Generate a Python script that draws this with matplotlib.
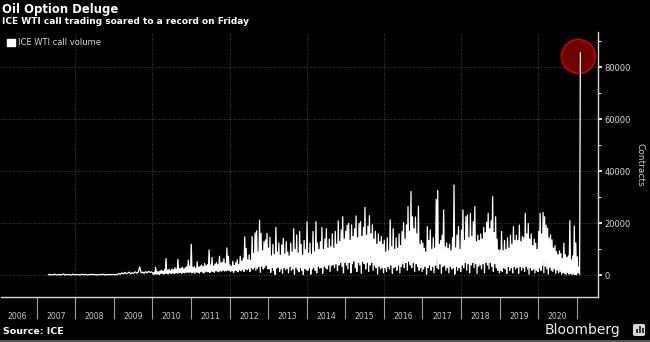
import numpy as np
import matplotlib
matplotlib.use('Agg')
import matplotlib.pyplot as plt
from matplotlib.patches import Patch, FancyBboxPatch, Rectangle
from matplotlib.lines import Line2D
import matplotlib.transforms as mtransforms

# ICE WTI call volume, thousands of contracts
vol_2007 = [0.3, 0.4, 0.2, 0.3, 0.5, 0.3, 0.2, 0.4, 0.3, 0.3, 0.6, 0.2, 0.3, 0.4, 0.3, 0.2, 0.5, 0.3]
vol_2008 = [0.3, 0.4, 0.3, 0.2, 0.5, 0.3, 0.4, 0.3, 0.2, 0.4, 0.3, 0.5, 0.3, 0.4, 0.2, 0.3,
            0.4, 0.3, 0.5, 0.3, 0.2, 0.4, 0.3, 0.4, 0.3, 0.4]
vol_2009 = [0.3, 0.4, 0.3, 0.8, 0.5, 1.0, 0.6, 1.2, 0.7, 0.9, 1.3, 0.6, 1.1, 0.8, 1.4, 0.9,
            1.2, 3.3, 1.0, 1.3, 0.8, 1.5, 1.0, 1.6, 1.2, 1.4]

# from 2010 on: fortnightly highs and lows
peaks_2010 = [1.0, 1.2, 3.1, 1.5, 1.4, 1.8, 2.0, 1.6, 2.2, 6.5, 2.0, 2.4, 1.8, 2.5, 2.2, 3.0,
              2.4, 6.2, 2.6, 2.8, 3.2, 2.5, 3.0, 3.4, 5.9, 3.5]
troughs_2010 = [0.4, 0.5, 0.6, 0.5, 0.4, 0.7, 0.8, 0.5, 0.9, 0.8, 0.6, 1.0, 0.7, 0.9, 0.8, 1.0,
                0.9, 1.0, 1.1, 0.8, 1.2, 1.0, 1.1, 1.3, 1.2, 1.4]
peaks_2011 = [12.0, 3.0, 3.5, 2.8, 5.3, 3.2, 3.6, 4.0, 3.4, 4.6, 3.8, 4.2, 9.8, 4.0, 6.9, 3.6,
              4.4, 5.0, 4.2, 7.4, 4.8, 5.2, 6.5, 4.6, 10.6, 7.4]
troughs_2011 = [1.0, 1.2, 0.8, 1.4, 1.2, 0.9, 1.5, 1.3, 1.0, 1.6, 1.4, 1.5, 1.1, 1.7, 1.5, 1.2,
                1.8, 1.6, 1.4, 1.9, 1.6, 2.0, 1.7, 1.8, 2.1, 1.9]
peaks_2012 = [4.0, 3.5, 5.5, 3.8, 5.0, 6.0, 4.2, 7.4, 5.5, 6.5, 14.9, 10.4, 6.0, 8.0, 5.8, 15.0,
              8.5, 16.4, 17.2, 9.0, 21.3, 16.2, 9.5, 13.0, 13.7, 16.2]
troughs_2012 = [1.5, 1.8, 1.2, 2.0, 1.9, 1.4, 2.2, 1.8, 2.4, 1.6, 2.5, 2.2, 2.8, 1.5, 3.0, 2.4,
                3.2, 2.0, 2.8, 3.4, 1.2, 3.6, 2.5, 3.0, 3.8, 2.6]
peaks_2013 = [10.5, 14.7, 7.5, 12.0, 8.0, 18.5, 9.0, 12.5, 7.8, 11.8, 14.3, 8.2, 13.0, 9.0, 7.5, 12.5,
              9.0, 18.0, 10.0, 15.6, 8.5, 16.9, 12.0, 7.8, 13.5, 10.0]
troughs_2013 = [2.5, 1.2, 3.0, 2.0, 0.4, 2.8, 3.2, 1.5, 2.5, 0.8, 3.0, 2.2, 2.8, 1.0, 3.5, 2.0,
                2.6, 0.5, 3.2, 2.4, 1.4, 3.0, 2.0, 0.3, 2.8, 2.2]
peaks_2014 = [20.7, 8.5, 12.5, 8.0, 16.9, 9.0, 20.7, 12.5, 10.0, 13.0, 18.5, 10.0, 14.0, 18.0, 10.5, 14.0,
              11.0, 16.0, 10.5, 17.0, 12.0, 21.0, 13.0, 17.5, 22.6, 14.0]
troughs_2014 = [2.0, 3.0, 0.5, 2.5, 3.2, 2.0, 1.0, 3.5, 2.8, 3.0, 0.8, 3.6, 3.0, 2.5, 4.0, 1.5,
                3.8, 4.2, 3.0, 4.5, 1.8, 4.0, 5.0, 3.5, 1.0, 5.0]
peaks_2015 = [17.0, 19.4, 20.0, 13.5, 19.5, 15.0, 18.0, 22.9, 14.5, 20.0, 20.7, 15.0, 18.5, 26.2, 15.5, 19.0,
              23.0, 16.0, 19.5, 14.0, 17.0, 12.0, 16.0, 13.0, 15.0, 12.0]
troughs_2015 = [4.0, 2.5, 5.0, 1.0, 4.5, 5.5, 3.0, 1.5, 5.0, 4.0, 0.8, 5.5, 4.5, 2.5, 5.0, 1.5,
                4.0, 5.0, 2.0, 4.0, 3.0, 0.5, 3.5, 2.5, 3.0, 1.0]
peaks_2016 = [13.5, 9.0, 14.5, 9.5, 21.4, 11.0, 18.0, 10.0, 14.5, 10.5, 16.0, 11.5, 17.0, 20.3, 14.0, 19.5,
              26.5, 17.0, 32.3, 22.6, 18.0, 22.5, 16.0, 26.7, 12.0, 13.5]
troughs_2016 = [3.0, 1.5, 3.5, 2.5, 4.0, 0.8, 3.0, 3.5, 2.0, 4.0, 1.0, 3.5, 4.5, 3.0, 5.0, 2.0,
                5.5, 4.0, 3.0, 5.0, 1.5, 4.5, 3.5, 2.0, 3.0, 1.5]
peaks_2017 = [12.5, 10.5, 9.0, 18.8, 13.5, 17.5, 10.0, 14.5, 10.5, 29.3, 32.7, 12.0, 13.5, 15.5, 25.2, 11.0,
              12.5, 10.5, 12.0, 9.5, 14.5, 34.8, 10.5, 15.6, 18.8, 10.0]
troughs_2017 = [2.5, 3.5, 0.5, 3.0, 4.0, 2.0, 3.5, 1.0, 4.0, 3.0, 2.5, 4.5, 0.8, 3.5, 4.0, 2.0,
                3.0, 1.0, 3.5, 2.5, 3.0, 0.5, 3.5, 2.0, 3.0, 1.5]
peaks_2018 = [17.5, 25.2, 13.5, 22.6, 23.3, 14.5, 23.9, 15.0, 20.7, 26.5, 13.0, 15.5, 13.5, 16.0, 14.0, 18.5,
              16.5, 20.5, 23.9, 18.0, 21.0, 30.3, 16.5, 22.6, 14.0, 9.8]
troughs_2018 = [4.0, 3.0, 5.0, 2.0, 4.5, 1.0, 4.0, 5.0, 3.0, 4.5, 0.8, 3.5, 4.0, 2.5, 4.5, 1.0,
                5.0, 4.0, 2.5, 5.0, 3.5, 1.5, 4.5, 3.0, 2.0, 1.0]
peaks_2019 = [9.8, 16.9, 9.5, 13.5, 10.0, 14.5, 10.5, 15.5, 12.0, 18.8, 13.5, 15.5, 13.5, 19.4, 13.0, 15.0,
              14.5, 23.9, 16.0, 20.0, 14.0, 16.0, 11.5, 14.0, 12.4, 10.0]
troughs_2019 = [2.0, 1.5, 3.0, 2.5, 0.8, 3.5, 2.0, 3.0, 1.0, 3.5, 2.5, 3.0, 0.8, 3.5, 2.0, 3.0,
                1.5, 3.5, 2.5, 0.5, 3.0, 2.0, 2.5, 1.0, 2.0, 1.5]
peaks_2020 = [17.0, 23.9, 16.0, 24.2, 22.6, 19.4, 18.2, 14.5, 15.6, 13.7, 10.5, 11.5, 9.2, 8.0, 9.5, 8.5,
              6.5, 12.4, 8.0, 7.0, 7.5, 21.1, 6.0, 7.5, 19.0, 12.5]
troughs_2020 = [3.0, 2.0, 4.0, 1.0, 3.5, 2.5, 0.5, 3.0, 2.0, 1.5, 2.5, 0.8, 2.0, 1.0, 1.5, 0.5,
                1.2, 0.8, 0.3, 1.2, 0.5, 0.8, 0.3, 0.6, 0.4, 0.3]
vol_2021 = [7.2, 1.0, 3.0, 0.5, 85.6]

year_labels = [str(y) for y in range(2006, 2021)]
y_ticks = [0, 20000, 40000, 60000, 80000]


def zigzag(peaks, troughs):
    return list(np.column_stack((peaks, troughs)).ravel())


segments = [
    (2007.29, 2008.0, vol_2007),
    (2008.0, 2009.0, vol_2008),
    (2009.0, 2010.0, vol_2009),
    (2010.0, 2011.0, zigzag(peaks_2010, troughs_2010)),
    (2011.0, 2012.0, zigzag(peaks_2011, troughs_2011)),
    (2012.0, 2013.0, zigzag(peaks_2012, troughs_2012)),
    (2013.0, 2014.0, zigzag(peaks_2013, troughs_2013)),
    (2014.0, 2015.0, zigzag(peaks_2014, troughs_2014)),
    (2015.0, 2016.0, zigzag(peaks_2015, troughs_2015)),
    (2016.0, 2017.0, zigzag(peaks_2016, troughs_2016)),
    (2017.0, 2018.0, zigzag(peaks_2017, troughs_2017)),
    (2018.0, 2019.0, zigzag(peaks_2018, troughs_2018)),
    (2019.0, 2020.0, zigzag(peaks_2019, troughs_2019)),
    (2020.0, 2021.0, zigzag(peaks_2020, troughs_2020)),
    (2021.0, 2021.1, vol_2021),
]
xs, ys = [], []
for start, end, vals in segments:
    n = len(vals)
    xs += [start + (i + 0.5) / n * (end - start) for i in range(n)]
    ys += [v * 1000 for v in vals]
xs = np.array(xs)
ys = np.array(ys)

fig = plt.figure(figsize=(6.5, 3.42), dpi=100, facecolor='black')
ax = fig.add_axes([1 / 650, 45 / 342, 597 / 650, 265 / 342])
ax.set_facecolor('black')

ax.plot(xs, ys, color='white', lw=0.9, zorder=3)

# highlight the record day
i_max = int(np.argmax(ys))
off = mtransforms.ScaledTranslation(-2.7 / 100, -3.4 / 100, fig.dpi_scale_trans)
ax.plot(xs[i_max], ys[i_max], 'o', ms=24.5, mfc='#6e0000', mec='#d40000', mew=1.0,
        zorder=2, transform=ax.transData + off)

ax.set_xlim(2006.08, 2021.547)
ax.set_ylim(-8270, 93650)

# right-hand value axis
ax.yaxis.tick_right()
ax.yaxis.set_label_position('right')
ax.set_yticks(y_ticks)
ax.set_yticklabels([str(v) for v in y_ticks])
ax.set_yticks(range(10000, 100000, 20000), minor=True)
ax.tick_params(axis='y', which='major', direction='out', length=3, width=1.5,
               colors='#d8d8d8', labelsize=6, pad=1.5)
ax.tick_params(axis='y', which='minor', direction='out', length=2, width=0.8, color='#d8d8d8')
ax.set_ylabel('Contracts', rotation=270, color='#c8ccd4', fontsize=6.5, labelpad=10)

# year axis: separators on year boundaries, labels in between
ax.set_xticks(range(2007, 2022))
ax.set_xticklabels([])
ax.set_xticks([int(y) + 0.5 for y in year_labels], minor=True)
ax.set_xticklabels(year_labels, minor=True)
ax.tick_params(axis='x', which='major', direction='out', length=16, width=0.8, color='#a0a0a0')
ax.tick_params(axis='x', which='minor', length=0, pad=11, labelsize=5.6, labelcolor='#c8c8c8')

ax.grid(axis='y', which='major', color='#5a5a5a', linestyle=(0, (1, 2)), lw=0.6)
for yr in range(2008, 2021, 2):
    ax.axvline(yr, color='#5a5a5a', linestyle=(0, (1, 2)), lw=0.6, zorder=1)

for side in ['top', 'left']:
    ax.spines[side].set_visible(False)
for side in ['right', 'bottom']:
    ax.spines[side].set_color('#d8d8d8')
    ax.spines[side].set_linewidth(1)

ax.legend([Patch(facecolor='white', edgecolor='white')], ['ICE WTI call volume'],
          loc='upper left', bbox_to_anchor=(7 / 650, 1 - 38 / 342), bbox_transform=fig.transFigure,
          frameon=False, fontsize=6, labelcolor='#d8d8d8', handlelength=0.9, handleheight=0.9,
          handletextpad=0.4, borderpad=0, borderaxespad=0)

fig.text(2 / 650, 1 - 12.7 / 342, 'Oil Option Deluge', fontsize=8.4, weight='bold',
         color='white', va='baseline')
fig.text(2 / 650, 1 - 24 / 342, 'ICE WTI call trading soared to a record on Friday',
         fontsize=6.5, weight='bold', color='white', va='baseline')
fig.text(3 / 650, 1 - 334 / 342, 'Source: ICE', fontsize=6.8, weight='bold',
         color='white', va='baseline')
fig.text(545 / 650, 1 - 334 / 342, 'Bloomberg', fontsize=10, color='#eeeeee', va='baseline')

# small Bloomberg logo mark
fig.add_artist(FancyBboxPatch((633 / 650, 1 - 336 / 342), 12 / 650, 12 / 342,
                              boxstyle='round,pad=0,rounding_size=0.004',
                              transform=fig.transFigure, fc='#d8d8d8', ec='none'))
for bx, bh in [(636, 4), (639, 7), (642, 5)]:
    fig.add_artist(Rectangle((bx / 650, 1 - 333 / 342), 1.6 / 650, bh / 342,
                             transform=fig.transFigure, fc='#333333', ec='none'))

fig.add_artist(Line2D([0, 1], [1.5 / 342, 1.5 / 342], transform=fig.transFigure,
                      color='#555555', lw=1.5))

fig.savefig('out.png', dpi=100, facecolor='black')
